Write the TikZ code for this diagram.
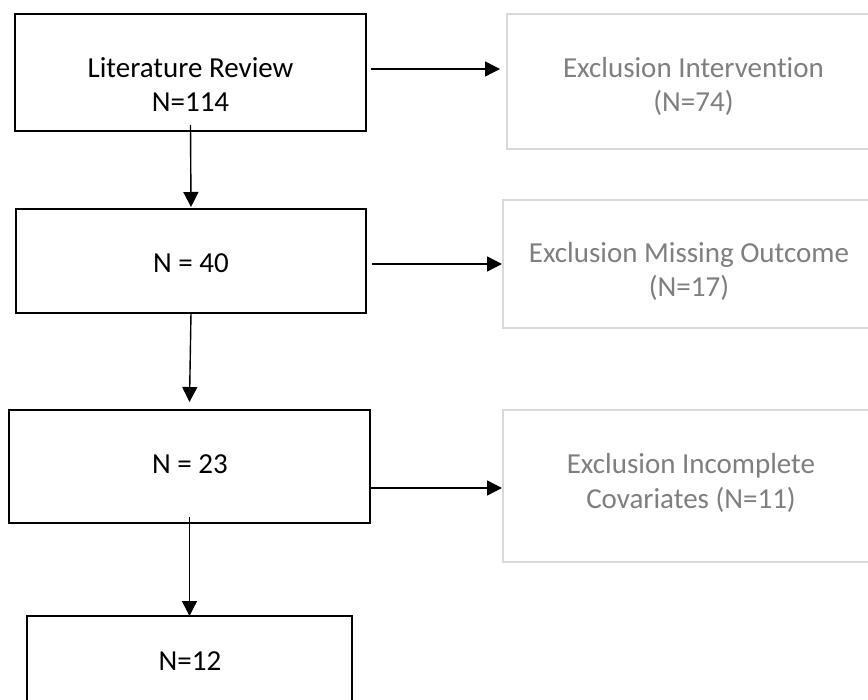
\documentclass[tikz,border=0pt]{standalone}
\usepackage{fontspec}
\setmainfont{Carlito}[Ligatures={NoCommon,NoContextual}]
\usetikzlibrary{arrows.meta,calc}
\definecolor{exgray}{HTML}{7F7F7F}
\definecolor{exborder}{HTML}{D9D9D9}
\tikzset{
  mainbox/.style={draw=black, line width=1.4pt, inner sep=0pt, outer sep=0pt, anchor=north west},
  exbox/.style={draw=exborder, line width=1.4pt, inner sep=0pt, outer sep=0pt, anchor=north west},
  maintxt/.style={anchor=base, inner sep=0pt, font=\fontsize{29}{35}\selectfont, text=black},
  extxt/.style={anchor=base, inner sep=0pt, font=\fontsize{29}{35}\selectfont, text=exgray},
  arr/.style={draw=black, line width=1.4pt, -{Triangle[length=15pt,width=15pt]}}
}
\begin{document}
\begin{tikzpicture}[x=1pt,y=-1pt]
\useasboundingbox (0,0) rectangle (868,700);
\clip (0,0) rectangle (868,700);
\fill[white] (0,0) rectangle (868,700);
% main boxes
\node[mainbox, minimum width=351pt, minimum height=117pt] (b1) at (15,14) {};
\node[mainbox, minimum width=350pt, minimum height=104pt] (b2) at (16,209) {};
\node[mainbox, minimum width=361pt, minimum height=113pt] (b3) at (9,410) {};
\node[mainbox, minimum width=325pt, minimum height=110pt] (b4) at (27,616) {};
% exclusion boxes
\node[exbox, minimum width=373pt, minimum height=135pt] (ea) at (507,14) {};
\node[exbox, minimum width=372pt, minimum height=128pt] (eb) at (503,200) {};
\node[exbox, minimum width=376pt, minimum height=152pt] (ec) at (503,410) {};
% texts
\node[maintxt] (t1a) at (190.5,78) {Literature Review};
\node[maintxt] (t1b) at (190.5,112) {N=114};
\node[maintxt] (t2) at (191,273) {N = 40};
\node[maintxt] (t3) at (190,474) {N = 23};
\node[maintxt] (t4) at (190,670) {N=12};
\node[extxt] (tea) at (693.5,78) {Exclusion Intervention};
\node[extxt] (teb) at (693.5,112) {(N=74)};
\node[extxt] (tec) at (689,263) {Exclusion Missing Outcome};
\node[extxt] (ted) at (689,297) {(N=17)};
\node[extxt] (tee) at (691,474) {Exclusion Incomplete};
\node[extxt] (tef) at (691,509) {Covariates (N=11)};
% vertical arrows
\draw[arr] ([yshift=6pt]b1.south) -- ([yshift=2pt]b2.north);
\draw[arr] (b2.south) -- ([yshift=8pt]b3.north);
\draw[arr] ([yshift=6pt]b3.south) -- (b4.north);
% horizontal arrows
\coordinate (h1) at ($(b1.east |- 0,69)+(5,0)$);
\coordinate (h2) at ($(b2.east |- 0,264)+(6,0)$);
\coordinate (h3) at (b3.east |- 0,488);
\draw[arr] (h1) -- ($(h1 -| ea.west)+(-7,0)$);
\draw[arr] (h2) -- ($(h2 -| eb.west)+(-1,0)$);
\draw[arr] (h3) -- ($(h3 -| ec.west)+(-1,0)$);
\end{tikzpicture}
\end{document}
